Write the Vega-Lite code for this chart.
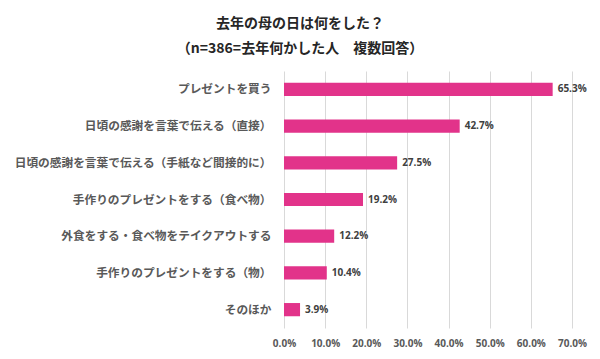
{
  "$schema": "https://vega.github.io/schema/vega-lite/v6.json",
  "autosize": "none",
  "padding": {"left": 284, "top": 71, "right": 28, "bottom": 31},
  "width": 288,
  "height": 257,
  "background": "white",
  "title": {
    "text": ["去年の母の日は何をした？", "（n=386=去年何かした人　複数回答）"],
    "font": "Noto Sans CJK JP",
    "fontSize": 14,
    "fontWeight": "bold",
    "color": "#262626",
    "lineHeight": 25,
    "anchor": "middle",
    "dx": -128,
    "offset": 15
  },
  "data": {
    "values": [
      {"item": "プレゼントを買う", "value": 0.653},
      {"item": "日頃の感謝を言葉で伝える（直接）", "value": 0.427},
      {"item": "日頃の感謝を言葉で伝える（手紙など間接的に）", "value": 0.275},
      {"item": "手作りのプレゼントをする（食べ物）", "value": 0.192},
      {"item": "外食をする・食べ物をテイクアウトする", "value": 0.122},
      {"item": "手作りのプレゼントをする（物）", "value": 0.104},
      {"item": "そのほか", "value": 0.039}
    ]
  },
  "encoding": {
    "y": {
      "field": "item",
      "type": "nominal",
      "sort": null,
      "scale": {"paddingInner": 0.64, "paddingOuter": 0.32},
      "axis": {
        "title": null,
        "ticks": false,
        "domain": false,
        "labelPadding": 13,
        "labelFont": "Noto Sans CJK JP",
        "labelFontSize": 11.7,
        "labelFontWeight": "bold",
        "labelColor": "#595959",
        "labelLimit": 300
      }
    },
    "x": {
      "field": "value",
      "type": "quantitative",
      "scale": {"domain": [0, 0.7], "nice": false},
      "axis": {
        "title": null,
        "format": ".1%",
        "values": [0, 0.1, 0.2, 0.3, 0.4, 0.5, 0.6, 0.7],
        "ticks": false,
        "domain": false,
        "grid": true,
        "gridColor": "#d9d9d9",
        "labelPadding": 10,
        "labelFont": "Open Sans",
        "labelFontSize": 10,
        "labelFontWeight": "bold",
        "labelColor": "#595959",
        "labelFlush": false
      }
    }
  },
  "layer": [
    {"mark": {"type": "bar", "color": "#E2338A"}},
    {
      "mark": {"type": "text", "align": "left", "dx": 5, "font": "Open Sans", "fontSize": 10, "fontWeight": "bold", "color": "#404040"},
      "encoding": {"text": {"field": "value", "format": ".1%"}}
    }
  ],
  "config": {"view": {"stroke": null}}
}
